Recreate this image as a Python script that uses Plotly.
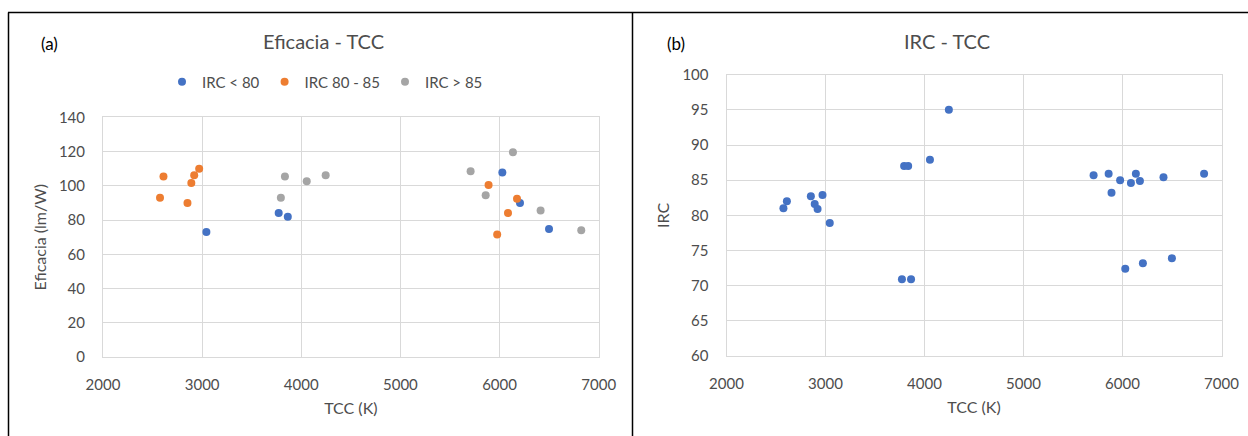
import plotly.graph_objects as go

# ---- data ----
tcc = [2575, 2610, 2852, 2891, 2920, 2970, 3043, 3772, 3864, 3794, 3835, 4055, 4246,
       5708, 5860, 5889, 5976, 6028, 6085, 6135, 6176, 6206, 6414, 6499, 6824]
eficacia = [93.0, 105.4, 89.9, 101.7, 106.2, 109.9, 73.0, 84.1, 81.9, 93.0, 105.4, 102.7, 106.2,
            108.5, 94.4, 100.4, 71.6, 107.8, 84.1, 119.6, 92.4, 89.9, 85.6, 74.8, 74.0]
irc = [81.0, 82.0, 82.7, 81.6, 80.9, 82.9, 78.9, 70.9, 70.9, 87.0, 87.0, 87.9, 95.0,
       85.7, 85.9, 83.2, 85.0, 72.4, 84.6, 85.9, 84.9, 73.2, 85.4, 73.9, 85.9]
grupo = ["IRC 80 - 85"] * 6 + ["IRC < 80"] * 3 + ["IRC > 85"] * 4 + \
        ["IRC > 85", "IRC > 85", "IRC 80 - 85", "IRC 80 - 85", "IRC < 80", "IRC 80 - 85",
         "IRC > 85", "IRC 80 - 85", "IRC < 80", "IRC > 85", "IRC < 80", "IRC > 85"]
categorias = ["IRC < 80", "IRC 80 - 85", "IRC > 85"]
colores = ["#4472C4", "#ED7D31", "#A5A5A5"]

x_ticks = [2000, 3000, 4000, 5000, 6000, 7000]
y1_ticks = [0, 20, 40, 60, 80, 100, 120, 140]
y2_ticks = [60, 65, 70, 75, 80, 85, 90, 95, 100]

W, H = 1248, 436
FONT = "Lato"
GRID = "#D9D9D9"
TXT = "#4D4D4D"


def px_x(p):
    return p / W


def px_y(p):
    return (H - p) / H


fig = go.Figure()

for cat, col in zip(categorias, colores):
    xs = [t for t, g in zip(tcc, grupo) if g == cat]
    ys = [e for e, g in zip(eficacia, grupo) if g == cat]
    fig.add_trace(go.Scatter(x=xs, y=ys, mode="markers", name=cat,
                             marker=dict(color=col, size=8),
                             xaxis="x", yaxis="y"))

fig.add_trace(go.Scatter(x=tcc, y=irc, mode="markers", name="IRC",
                         marker=dict(color="#4472C4", size=8), showlegend=False,
                         xaxis="x2", yaxis="y2"))

axis_common = dict(showgrid=True, gridcolor=GRID, gridwidth=1, zeroline=False,
                   showline=True, linecolor=GRID, linewidth=1, mirror=True,
                   ticks="", tickfont=dict(family=FONT, size=15, color=TXT),
                   ticklabelstandoff=14, automargin=False)

fig.update_layout(
    width=W, height=H,
    margin=dict(l=0, r=0, t=0, b=0),
    paper_bgcolor="white", plot_bgcolor="white",
    font=dict(family=FONT, color=TXT),
    xaxis=dict(domain=[px_x(103), px_x(598.7)], range=[2000, 7000], tickvals=x_ticks,
               title=dict(text="TCC (K)", font=dict(family=FONT, size=16, color=TXT), standoff=10),
               anchor="y", **axis_common),
    yaxis=dict(domain=[px_y(357), px_y(117.3)], range=[0, 140], tickvals=y1_ticks,
               title=dict(text="Eficacia (lm/W)", font=dict(family=FONT, size=16, color=TXT), standoff=8),
               anchor="x", **axis_common),
    xaxis2=dict(domain=[px_x(726.5), px_x(1221.5)], range=[2000, 7000], tickvals=x_ticks,
                title=dict(text="TCC (K)", font=dict(family=FONT, size=16, color=TXT), standoff=10),
                anchor="y2", **axis_common),
    yaxis2=dict(domain=[px_y(356), px_y(74.7)], range=[60, 100], tickvals=y2_ticks,
                title=dict(text="IRC", font=dict(family=FONT, size=16, color=TXT), standoff=8),
                anchor="x2", **axis_common),
    legend=dict(orientation="h", x=px_x(162), xanchor="left", y=px_y(82), yanchor="middle",
                font=dict(family=FONT, size=15, color=TXT), itemwidth=30,
                bgcolor="rgba(0,0,0,0)", tracegroupgap=0),
    showlegend=True,
)

annotations = [
    dict(text="Eficacia - TCC", x=px_x(323), y=px_y(41), font=dict(family=FONT, size=20, color=TXT)),
    dict(text="IRC - TCC", x=px_x(946.5), y=px_y(41), font=dict(family=FONT, size=20, color=TXT)),
    dict(text="(a)", x=px_x(49), y=px_y(44), font=dict(family=FONT, size=17, color="#000000")),
    dict(text="(b)", x=px_x(676), y=px_y(44), font=dict(family=FONT, size=17, color="#000000")),
]
for a in annotations:
    a.update(xref="paper", yref="paper", showarrow=False, xanchor="center", yanchor="middle")
fig.update_layout(annotations=annotations)

frame = dict(type="line", xref="paper", yref="paper", line=dict(color="#000000", width=1.5))
fig.update_layout(shapes=[
    dict(frame, x0=px_x(8), x1=1, y0=px_y(12.5), y1=px_y(12.5)),
    dict(frame, x0=px_x(8.5), x1=px_x(8.5), y0=0, y1=px_y(12.5)),
    dict(frame, x0=px_x(632.5), x1=px_x(632.5), y0=0, y1=px_y(12.5)),
])

fig.write_html("out.html")
